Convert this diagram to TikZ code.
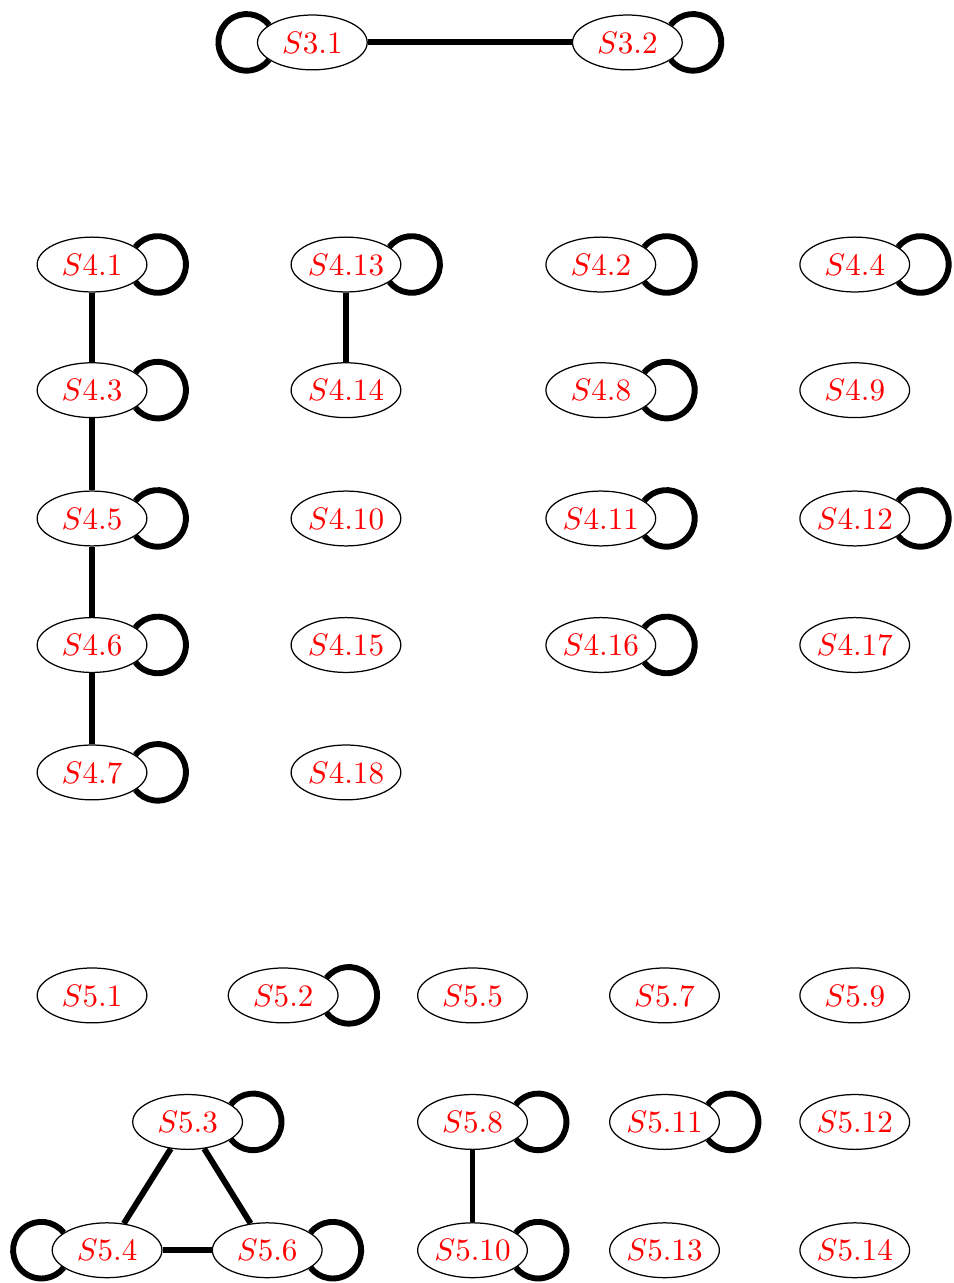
\documentclass[tikz,border=0pt]{standalone}
\usepackage{amsmath,amssymb}
\usetikzlibrary{shapes.geometric}

\begin{document}
\begin{tikzpicture}[x=1cm,y=1cm]
\tikzset{
  statenode/.style={ellipse,draw=black,line width=0.4pt,minimum width=1.24cm,minimum height=0.62cm,inner sep=0pt,text=red},
  graphedge/.style={draw=black,line width=1.9pt},
  selfloop/.style={graphedge}
}
\useasboundingbox (0,0) rectangle (10.78,14.50);
\node[statenode] (n_s31) at (3.53,14.02) {$S3.1$};
\node[statenode] (n_s32) at (7.09,14.02) {$S3.2$};
\node[statenode] (n_s41) at (1.04,11.51) {$S4.1$};
\node[statenode] (n_s43) at (1.04,10.09) {$S4.3$};
\node[statenode] (n_s45) at (1.04,8.64) {$S4.5$};
\node[statenode] (n_s46) at (1.04,7.21) {$S4.6$};
\node[statenode] (n_s47) at (1.04,5.77) {$S4.7$};
\node[statenode] (n_s413) at (3.91,11.51) {$S4.13$};
\node[statenode] (n_s414) at (3.91,10.09) {$S4.14$};
\node[statenode] (n_s410) at (3.91,8.64) {$S4.10$};
\node[statenode] (n_s415) at (3.91,7.21) {$S4.15$};
\node[statenode] (n_s418) at (3.91,5.77) {$S4.18$};
\node[statenode] (n_s42) at (6.79,11.51) {$S4.2$};
\node[statenode] (n_s48) at (6.79,10.09) {$S4.8$};
\node[statenode] (n_s411) at (6.79,8.64) {$S4.11$};
\node[statenode] (n_s416) at (6.79,7.21) {$S4.16$};
\node[statenode] (n_s44) at (9.66,11.51) {$S4.4$};
\node[statenode] (n_s49) at (9.66,10.09) {$S4.9$};
\node[statenode] (n_s412) at (9.66,8.64) {$S4.12$};
\node[statenode] (n_s417) at (9.66,7.21) {$S4.17$};
\node[statenode] (n_s51) at (1.04,3.25) {$S5.1$};
\node[statenode] (n_s52) at (3.20,3.25) {$S5.2$};
\node[statenode] (n_s55) at (5.34,3.25) {$S5.5$};
\node[statenode] (n_s57) at (7.51,3.25) {$S5.7$};
\node[statenode] (n_s59) at (9.66,3.25) {$S5.9$};
\node[statenode] (n_s53) at (2.12,1.82) {$S5.3$};
\node[statenode] (n_s58) at (5.34,1.82) {$S5.8$};
\node[statenode] (n_s511) at (7.51,1.82) {$S5.11$};
\node[statenode] (n_s512) at (9.66,1.82) {$S5.12$};
\node[statenode] (n_s54) at (1.21,0.37) {$S5.4$};
\node[statenode] (n_s56) at (3.02,0.37) {$S5.6$};
\node[statenode] (n_s510) at (5.34,0.37) {$S5.10$};
\node[statenode] (n_s513) at (7.51,0.37) {$S5.13$};
\node[statenode] (n_s514) at (9.66,0.37) {$S5.14$};
\draw[graphedge] (n_s31) -- (n_s32);
\draw[graphedge] (n_s41) -- (n_s43);
\draw[graphedge] (n_s43) -- (n_s45);
\draw[graphedge] (n_s45) -- (n_s46);
\draw[graphedge] (n_s46) -- (n_s47);
\draw[graphedge] (n_s413) -- (n_s414);
\draw[graphedge] (n_s53) -- (n_s54);
\draw[graphedge] (n_s53) -- (n_s56);
\draw[graphedge] (n_s54) -- (n_s56);
\draw[graphedge] (n_s58) -- (n_s510);
\draw[selfloop] (n_s31.158) arc[start angle=38,end angle=322,radius=0.32];
\draw[selfloop] (n_s54.158) arc[start angle=38,end angle=322,radius=0.32];
\foreach \n in {s32,s41,s43,s45,s46,s47,s413,s42,s48,s411,s416,s44,s412,s52,s53,s58,s511,s56,s510}
  \draw[selfloop] (n_\n.22) arc[start angle=142,end angle=-142,radius=0.32];
\end{tikzpicture}
\end{document}
